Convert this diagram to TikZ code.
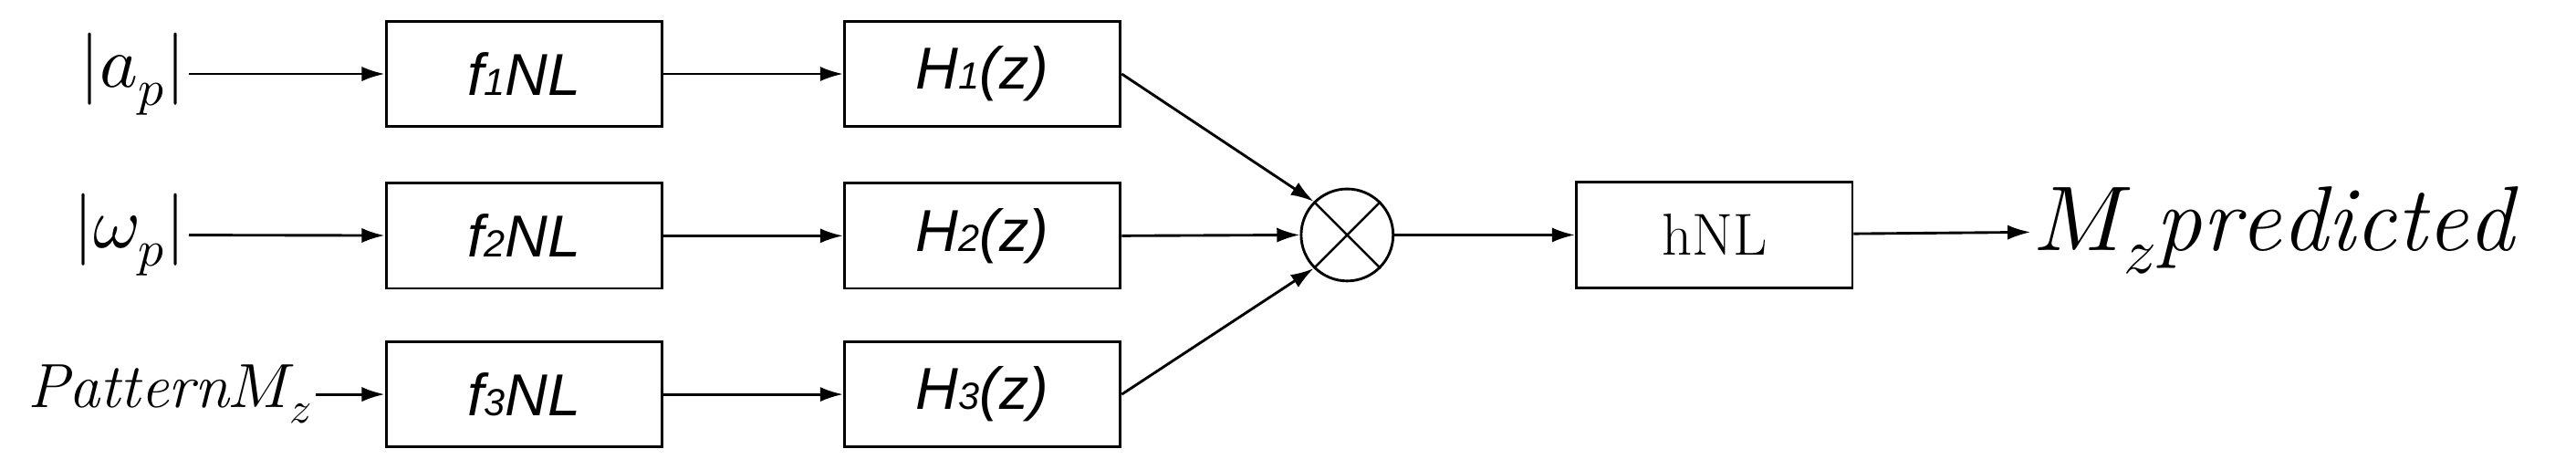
\documentclass[tikz,border=0pt]{standalone}
\usepackage{unicode-math}
\setmathfont{Latin Modern Math}
\newfontfamily\boxfont{Liberation Sans}
\usetikzlibrary{arrows.meta}
\begin{document}
\begin{tikzpicture}[x=1pt,y=-1pt,
  blk/.style={draw,line width=1.6pt,minimum width=168pt,minimum height=64pt,inner sep=0pt},
  arr/.style={line width=1.6pt,-{Latex[length=14pt,width=9pt]}},
  bt/.style={font=\boxfont\itshape\fontsize{36}{42}\selectfont},
  lab/.style={font=\fontsize{44}{50}\selectfont,inner sep=2pt}]
\useasboundingbox (0,0) rectangle (1568,286);
\node[blk,bt] (f1) at (319,45) {f\fontsize{23}{24}\selectfont 1\fontsize{36}{42}\selectfont NL};
\node[blk,bt] (f2) at (319,143.5) {f\fontsize{23}{24}\selectfont 2\fontsize{36}{42}\selectfont NL};
\node[blk,bt] (f3) at (319,240) {f\fontsize{23}{24}\selectfont 3\fontsize{36}{42}\selectfont NL};
\node[blk,bt] (h1) at (598,45) {H\fontsize{23}{24}\selectfont 1\fontsize{36}{42}\selectfont (z)};
\node[blk,bt] (h2) at (598,143.5) {H\fontsize{23}{24}\selectfont 2\fontsize{36}{42}\selectfont (z)};
\node[blk,bt] (h3) at (598,240) {H\fontsize{23}{24}\selectfont 3\fontsize{36}{42}\selectfont (z)};
\node[draw,circle,line width=1.6pt,minimum size=56pt,inner sep=0pt] (m) at (820,143) {};
\draw[line width=1.4pt] (m.north west) -- (m.south east) (m.north east) -- (m.south west);
\node[blk,font=\fontsize{36}{42}\selectfont] (hn) at (1043.5,143) {hNL};
\node[lab,anchor=east] (a) at (115,45) {$|a_p|$};
\node[lab,anchor=east] (w) at (115,143) {$|\omega_p|$};
\node[lab,anchor=east,font=\fontsize{38}{44}\selectfont] (p) at (192,240) {$\mathit{Pattern}M_z$};
\node[anchor=west,inner sep=2pt,font=\fontsize{56}{64}\selectfont] (o) at (1236,140) {$M_z\mathit{predicted}$};
\draw[arr] (a) -- (f1);
\draw[arr] (w) -- (f2);
\draw[arr] (p) -- (f3);
\draw[arr] (f1) -- (h1);
\draw[arr] (f2) -- (h2);
\draw[arr] (f3) -- (h3);
\draw[arr] (h1.east) -- (m.north west);
\draw[arr] (h2.east) -- (m.west);
\draw[arr] (h3.east) -- (m.south west);
\draw[arr] (m) -- (hn);
\draw[arr] (hn) -- (o);
\end{tikzpicture}
\end{document}
